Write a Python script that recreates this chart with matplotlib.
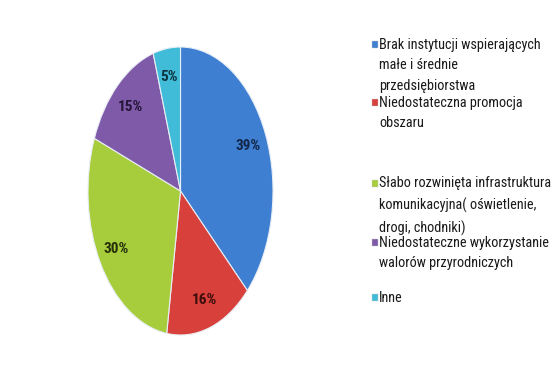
import numpy as np
import matplotlib.pyplot as plt
from matplotlib.patches import Rectangle

categories = [
    "Brak instytucji wspierających\nmałe i średnie\nprzedsiębiorstwa",
    "Niedostateczna promocja\nobszaru",
    "Słabo rozwinięta infrastruktura\nkomunikacyjna( oświetlenie,\ndrogi, chodniki)",
    "Niedostateczne wykorzystanie\nwalorów przyrodniczych",
    "Inne",
]
values = [39, 16, 30, 15, 5]
pct_labels = ["39%", "16%", "30%", "15%", "5%"]

colors = ["#3f7fd2", "#d8413b", "#a7cd3d", "#7e5aa8", "#41bcd8"]
text_colors = ["#12284a", "#3d0d0b", "#25300a", "#26163a", "#0e3340"]

plt.rcParams["font.family"] = ["Roboto Condensed", "DejaVu Sans"]

fig = plt.figure(figsize=(5.59, 3.83), dpi=100)
ax = fig.add_axes([0.1574, 0.1253, 0.331, 0.752])

wedges, texts = ax.pie(values, colors=colors, startangle=90, counterclock=False,
                       wedgeprops=dict(edgecolor="#e8eef5", linewidth=0.8))
ax.set_aspect("auto")
ax.set_xlim(-1.0, 1.0)
ax.set_ylim(-1.0, 1.0)

# percentage labels at mid-angle of each wedge
for w, lab, tc in zip(wedges, pct_labels, text_colors):
    ang = np.deg2rad((w.theta1 + w.theta2) / 2)
    ax.text(0.8 * np.cos(ang), 0.8 * np.sin(ang), lab, ha="center", va="center",
            fontsize=11, fontweight="bold", color=tc)

# legend drawn by hand, Excel style
leg_y = [44, 102, 183, 242, 297]
H = 383
for y, cat, c in zip(leg_y, categories, colors):
    fy = 1 - y / H
    fig.patches.append(Rectangle((372 / 559, fy - 3.5 / H), 6 / 559, 7 / H,
                                 transform=fig.transFigure, facecolor=c,
                                 edgecolor="#cccccc", linewidth=0.3))
    fig.text(379 / 559, fy + 6.5 / H, cat, ha="left", va="top", fontsize=10.3,
             color="#1a1a1a", linespacing=1.6)

fig.savefig("out.png", dpi=100)
